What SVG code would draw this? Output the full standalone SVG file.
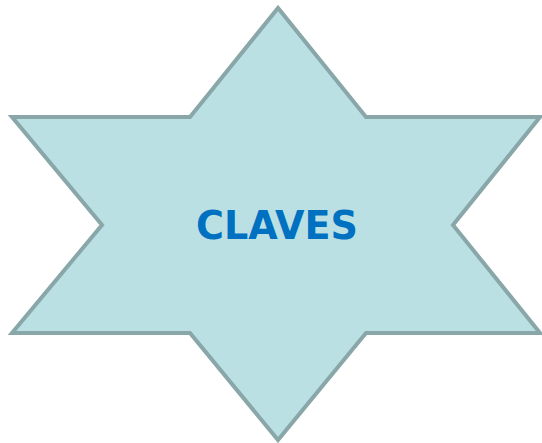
<svg xmlns="http://www.w3.org/2000/svg" width="542" height="443" viewBox="0 0 542 443">
<style>
.star{fill:#BAE0E4;stroke:#89A6A8;stroke-width:4;stroke-linejoin:miter}
.lbl{font-family:"DejaVu Sans",Verdana,sans-serif;font-weight:bold;font-size:39px;fill:#0070C0}
</style>
<g id="star">
<polygon class="star" points="278,8 190,117 12,117 102,225 12,333 190,333 278,440 366,333 540,333 453,225 540,117 366,117"/>
<text class="lbl" x="277" y="239" text-anchor="middle" textLength="162" lengthAdjust="spacingAndGlyphs">CLAVES</text>
</g>
</svg>
